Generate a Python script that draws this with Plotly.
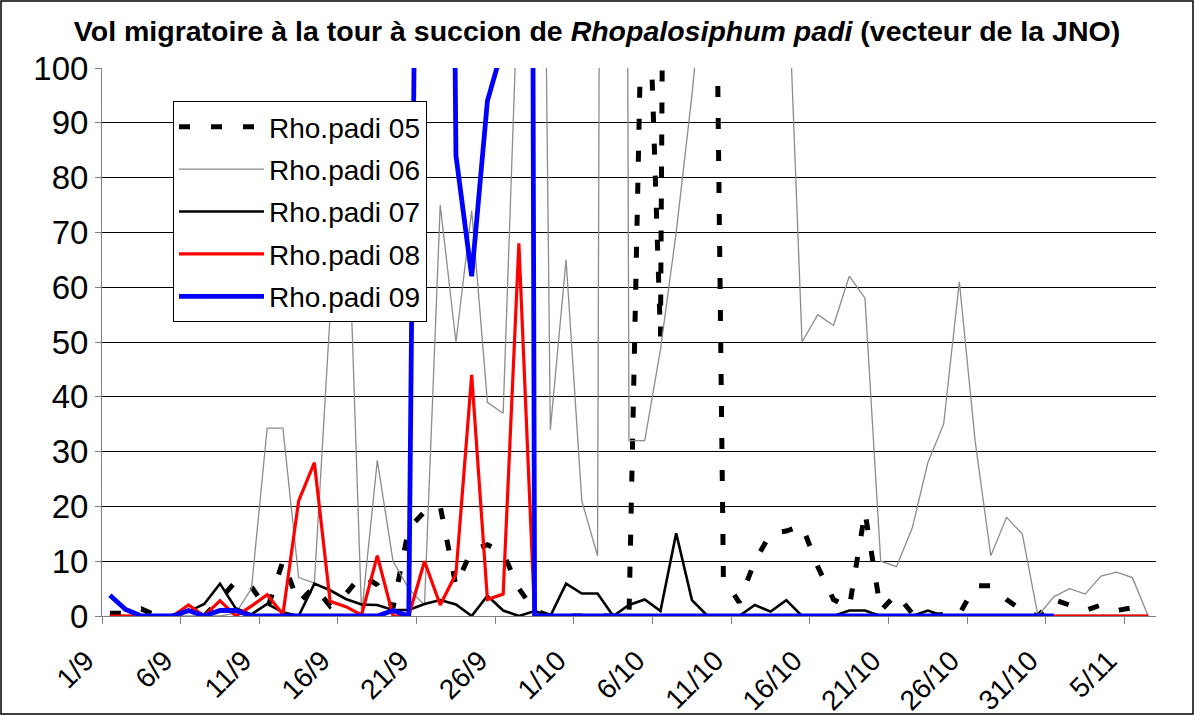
import plotly.graph_objects as go
import pandas as pd

# ---- categories (one per day, 1/9 .. 6/11) ----
days = pd.date_range("2009-09-01", "2009-11-06", freq="D")
tick_dates = ["2009-09-01", "2009-09-06", "2009-09-11", "2009-09-16", "2009-09-21",
              "2009-09-26", "2009-10-01", "2009-10-06", "2009-10-11", "2009-10-16",
              "2009-10-21", "2009-10-26", "2009-10-31", "2009-11-05"]
tick_labels = ["1/9", "6/9", "11/9", "16/9", "21/9", "26/9", "1/10", "6/10",
               "11/10", "16/10", "21/10", "26/10", "31/10", "5/11"]

# ---- series values (>100 values are off-scale) ----
rho05 = [0.5, 0.5, 1.3, 0, 0, 0, 0, 3, 6.3, 5.3,
         1.2, 10, 2.4, 5.4, 1.8, 4, 7.5, 5.7, 1.5, 16,
         19, 20, 5.5, 12, 13, 11.5, 5, 1, 0, 0,
         0, 0, 0, 0, 140, 51, 500, 400, 260, 7,
         2.5, 10, 15, 15.5, 16.5, 9, 3, 1.5, 19, 1,
         4, 0.5, 0, 0.3, 0.3, 5.5, 5.5, 3, 1, 0,
         3, 2, 1, 2, 1, 1.5, 0]
rho06 = [0, 0, 0, 0, 0, 0, 0, 0, 0.5, 5,
         34.3, 34.3, 7, 6, 55, 87, 0.3, 28.4, 10, 5,
         2, 75, 50, 74, 39, 37, 120, 300, 34, 65,
         21, 11, 900, 32, 32, 48.6, 70, 95, 125, 150,
         170, 180, 160, 125, 50, 55, 53, 62, 58, 10,
         9, 16, 28, 35, 61, 32, 11, 18, 15, 0,
         3.5, 5, 4, 7.3, 8, 7, 0]
rho07 = [0, 0, 0, 0, 0, 0.8, 2.2, 5.9, 1.4, 0.3,
         2.2, 0.7, 0, 5.9, 4.7, 3.1, 2.1, 2, 1.1, 1.1,
         2.2, 2.9, 2.1, 0, 3.7, 1, 0, 0.9, 0, 5.9,
         4.1, 4.1, 0, 2, 3, 0.9, 15.1, 2.9, 0, 0,
         0, 2, 0.8, 2.9, 0, 0, 0, 1, 1, 0,
         0, 0, 1, 0, 0, 0, 0, 0, 0, 0,
         0, 0, 0, 0, 0, 0, 0]
rho08 = [0, 0, 0, 0, 0, 2, 0, 2.8, 0, 1.8,
         3.9, 0.3, 21, 28, 2.7, 1.7, 0.2, 11, 0, 0,
         10, 2, 7.7, 44, 3, 4, 68, 0, 0, 0,
         0, 0, 0, 0, 0, 0, 0, 0, 0, 0,
         0, 0, 0, 0, 0, 0, 0, 0, 0, 0,
         0, 0, 0, 0, 0, 0, 0, 0, 0, 0,
         0, 0, 0, 0, 0, 0, 0]
rho09 = [3.8, 1.2, 0, 0, 0, 1, 0, 1, 1, 0,
         0, 0, 0, 0, 0, 0, 0, 0, 1, 0,
         300, 390, 84, 62, 94, 104, 1000, 0, 0, 0,
         0, 0, 0, 0, 0, 0, 0, 0, 0, 0,
         0, 0, 0, 0, 0, 0, 0, 0, 0, 0,
         0, 0, 0, 0, 0, 0, 0, 0, 0, 0,
         0]

series_names = ["Rho.padi 05", "Rho.padi 06", "Rho.padi 07", "Rho.padi 08", "Rho.padi 09"]
y_ticks = [0, 10, 20, 30, 40, 50, 60, 70, 80, 90, 100]

FONT = "Liberation Sans, Arial, sans-serif"
W, H = 1194, 715
L, R, T, B = 102, 38, 68, 99

styles = [
    dict(color="black", width=5, dash="11px,21px"),
    dict(color="#8c8c8c", width=1.3),
    dict(color="black", width=2.6),
    dict(color="#ff0000", width=3.2),
    dict(color="#0000ff", width=4.8),
]

fig = go.Figure()
for k, (name, vals) in enumerate(zip(series_names, [rho05, rho06, rho07, rho08, rho09])):
    fig.add_trace(go.Scatter(
        x=days[:len(vals)], y=vals, mode="lines", name=name,
        line=styles[k], legendgroup=name, hoverinfo="skip",
    ))

tickvals = [pd.Timestamp(d) - pd.Timedelta(hours=12) for d in tick_dates]

pw = W - L - R
ph = H - T - B

fig.update_layout(
    width=W, height=H,
    margin=dict(l=L, r=R, t=T, b=B, pad=0),
    paper_bgcolor="white", plot_bgcolor="white",
    font=dict(family=FONT, color="black"),
    title=dict(
        text="<b>Vol migratoire à la tour à succion de <i>Rhopalosiphum padi</i> (vecteur de la JNO)</b>",
        font=dict(size=28.5, family=FONT, color="black"),
        x=0.5, xanchor="center", y=1 - 31 / H, yanchor="middle",
    ),
    showlegend=True,
    legend=dict(
        x=(173 - L) / pw, y=(H - B - 101) / ph, xanchor="left", yanchor="top",
        bgcolor="white", bordercolor="black", borderwidth=1,
        font=dict(size=28, family=FONT, color="black"),
        tracegroupgap=3, itemwidth=85,
    ),
    xaxis=dict(
        type="date",
        range=[pd.Timestamp("2009-08-31 12:00"), pd.Timestamp("2009-11-06 12:00")],
        tickmode="array", tickvals=tickvals, ticktext=tick_labels,
        tickangle=-45, ticks="outside", ticklen=7, tickcolor="#808080", tickwidth=1,
        showline=True, linecolor="#808080", linewidth=1,
        showgrid=False, zeroline=False, automargin=False,
        ticklabelstandoff=9, ticklabelshift=-16,
        tickfont=dict(size=28, family=FONT, color="black"),
    ),
    yaxis=dict(
        range=[0, 100], tickmode="array", tickvals=y_ticks,
        ticks="outside", ticklen=6, tickcolor="#808080", tickwidth=1,
        showline=True, linecolor="#808080", linewidth=1,
        showgrid=True, gridcolor="black", gridwidth=1,
        zeroline=False, automargin=False,
        tickfont=dict(size=33, family=FONT, color="black"),
    ),
    shapes=[dict(
        type="rect", xref="paper", yref="paper",
        x0=(1 - L) / pw, x1=(W - 1 - L) / pw,
        y0=(-(B - 1)) / ph, y1=(ph + T - 1) / ph,
        line=dict(color="black", width=1.5), fillcolor="rgba(0,0,0,0)", layer="above",
    )],
)

fig.write_html("out.html", config={"displayModeBar": False},
               post_script="document.body.style.margin='0px';")
